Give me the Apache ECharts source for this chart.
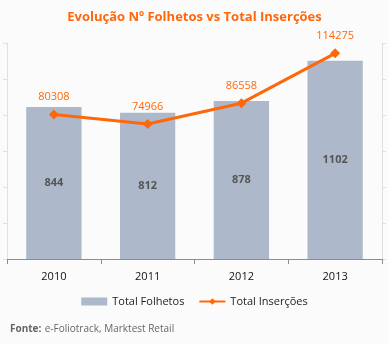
<!DOCTYPE html>
<html>
<head>
<meta charset="utf-8">
<script src="https://cdn.jsdelivr.net/npm/echarts@6/dist/echarts.min.js"></script>
<style>
  html, body { margin: 0; padding: 0; background: #fbfbfb; }
  #chart { width: 389px; height: 344px; }
</style>
</head>
<body>
<div id="chart"></div>
<script>
// Years on the category axis
const years = ['2010', '2011', '2012', '2013'];
// Number of leaflets per year (bars, left axis)
const totalFolhetos = [844, 812, 878, 1102];
// Number of insertions per year (line, right axis)
const totalInsercoes = [80308, 74966, 86558, 114275];

const orange = '#ff680a';
const barColor = '#adb9ca';
const font = 'Open Sans, Calibri, Carlito, sans-serif';

const chart = echarts.init(document.getElementById('chart'), null, { renderer: 'canvas' });
chart.setOption({
  backgroundColor: '#fbfbfb',
  animation: false,
  title: {
    text: 'Evolução Nº Folhetos vs Total Inserções',
    left: 'center',
    top: 6,
    textStyle: { color: orange, fontSize: 13, fontWeight: 'bold', fontFamily: font }
  },
  grid: { left: 7, right: 7, top: 43, bottom: 85, containLabel: false },
  legend: {
    bottom: 32,
    left: 'center',
    itemGap: 14,
    itemWidth: 26,
    itemHeight: 8,
    textStyle: { color: '#222', fontSize: 11, fontFamily: font },
    data: [
      { name: 'Total Folhetos', icon: 'rect' },
      { name: 'Total Inserções' }
    ]
  },
  graphic: [{
    type: 'text',
    left: 10,
    top: 323,
    style: {
      rich: {
        b: { fontWeight: 'bold', fill: '#666', fontSize: 10, fontFamily: font },
        n: { fill: '#666', fontSize: 10, fontFamily: font }
      },
      text: '{b|Fonte:} {n|e-Foliotrack, Marktest Retail}'
    }
  }],
  xAxis: {
    type: 'category',
    data: years,
    axisLine: { lineStyle: { color: '#8c8c8c' } },
    axisTick: { show: true, length: 5, lineStyle: { color: '#8c8c8c' } },
    axisLabel: { color: '#111', fontSize: 11, fontFamily: font, margin: 12 }
  },
  yAxis: [
    {
      type: 'value', min: 0, max: 1200, interval: 200,
      axisLine: { show: true, lineStyle: { color: '#e0e0e0' } },
      axisTick: { show: true, inside: false, length: 4, lineStyle: { color: '#e0e0e0' } },
      axisLabel: { show: false },
      splitLine: { show: false }
    },
    {
      type: 'value', min: 0, max: 120000, interval: 20000,
      position: 'right',
      axisLine: { show: true, lineStyle: { color: '#e0e0e0' } },
      axisTick: { show: true, inside: false, length: 4, lineStyle: { color: '#e0e0e0' } },
      axisLabel: { show: false },
      splitLine: { show: false }
    }
  ],
  series: [
    {
      name: 'Total Folhetos',
      type: 'bar',
      data: totalFolhetos,
      yAxisIndex: 0,
      barWidth: '59%',
      itemStyle: { color: barColor },
      label: {
        show: true, position: 'inside',
        color: '#555', fontWeight: 'bold', fontSize: 11, fontFamily: font
      }
    },
    {
      name: 'Total Inserções',
      type: 'line',
      data: totalInsercoes,
      yAxisIndex: 1,
      symbol: 'diamond',
      symbolSize: 10,
      lineStyle: { color: orange, width: 3 },
      itemStyle: { color: orange },
      label: {
        show: true, position: 'top', distance: 7,
        color: orange, fontSize: 11, fontFamily: font
      }
    }
  ]
});
</script>
</body>
</html>
